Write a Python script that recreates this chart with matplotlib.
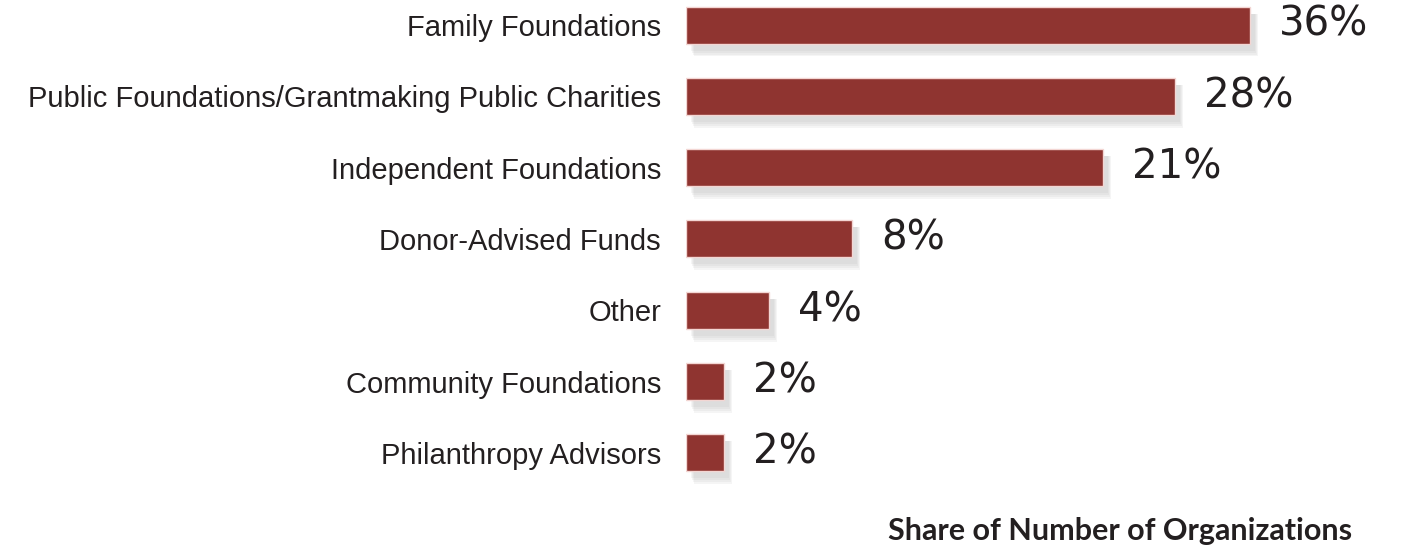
import matplotlib.pyplot as plt
import matplotlib.transforms as mtransforms

categories = [
    "Family Foundations",
    "Public Foundations/Grantmaking Public Charities",
    "Independent Foundations",
    "Donor-Advised Funds",
    "Other",
    "Community Foundations",
    "Philanthropy Advisors",
]
shares = [36, 28, 21, 8, 4, 2, 2]
# drawn bar lengths (same units, top bar = 36)
bar_lengths = [36, 31.2, 26.6, 10.6, 5.3, 2.4, 2.4]
axis_title = "Share of Number of Organizations"

BAR = "#8f3430"
TEXT = "#231f20"

W, H = 1414, 549
fig = plt.figure(figsize=(W / 100, H / 100), dpi=100)
fig.patch.set_facecolor("white")

left_px = 686
ax = fig.add_axes([left_px / W, 0, 1 - left_px / W, 1])
row = 71.33
first = 25
ax.set_xlim(0, (W - left_px) / 15.667)
ax.set_ylim((H - first) / row, -first / row)

y = list(range(len(categories)))
height = 37 / row

# soft drop shadow: stacked translucent copies, offset down-right
for dx, dy, grow in [(8, -10, 6), (7, -9, 4), (6, -8, 2), (5, -7, 0)]:
    tr = mtransforms.offset_copy(ax.transData, fig=fig, x=dx, y=dy, units="dots")
    ax.barh(y, bar_lengths, height=height + grow / row, color="#9a9a9a",
            alpha=0.09, linewidth=0, transform=tr, zorder=1)

ax.barh(y, bar_lengths, height=height, color=BAR, edgecolor="#f3d6d3",
        linewidth=1.0, zorder=3)

for yi, length, val in zip(y, bar_lengths, shares):
    ax.annotate(f"{val}%", (length, yi), xytext=(29, 0), textcoords="offset pixels",
                va="center", ha="left", fontsize=29, color=TEXT,
                family="DejaVu Sans", zorder=4)

ax.set_yticks(y)
ax.set_yticklabels(categories, fontsize=21, color=TEXT, family="Liberation Sans")
ax.tick_params(axis="y", length=0, pad=18)
ax.set_xticks([])
for s in ax.spines.values():
    s.set_visible(False)

fig.text(1352 / W, 1 - 531 / H, axis_title, ha="right", va="center",
         fontsize=22, fontweight="bold", color=TEXT, family="Lato")

fig.savefig("out.png", dpi=100, facecolor="white")
